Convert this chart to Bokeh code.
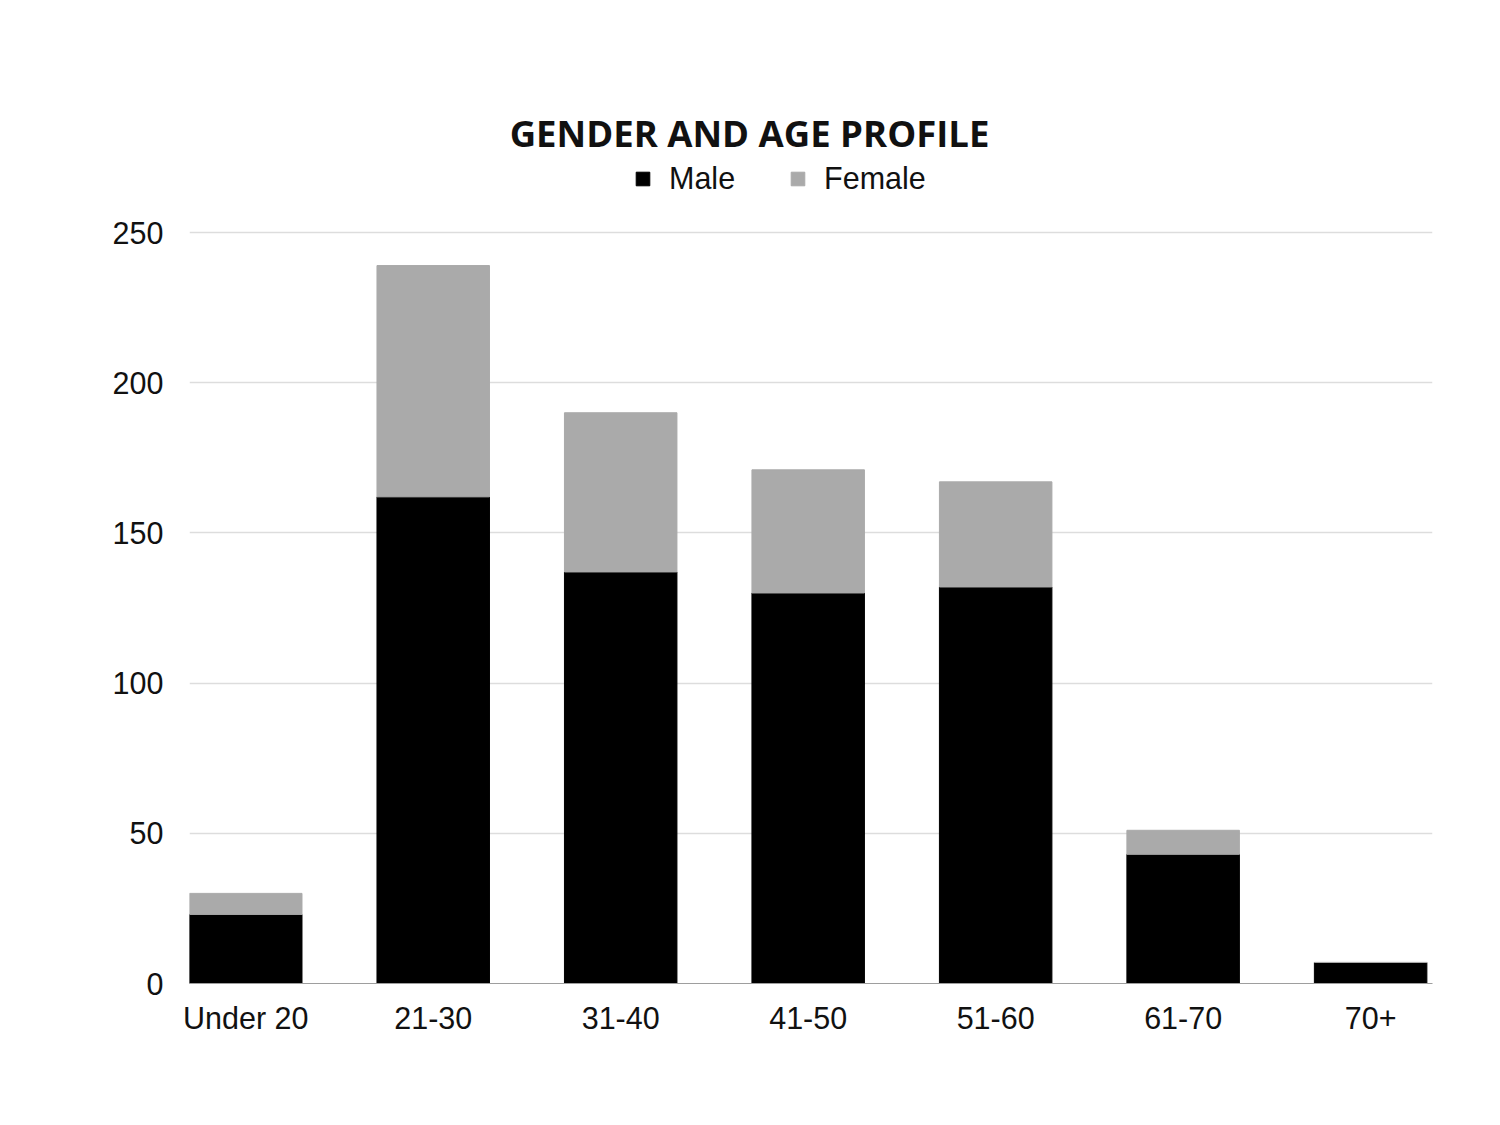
from bokeh.plotting import figure
from bokeh.models import ColumnDataSource, FixedTicker, Label, Legend, LegendItem, Range1d
from bokeh.embed import file_html
from bokeh.resources import INLINE

categories = ["Under 20", "21-30", "31-40", "41-50", "51-60", "61-70", "70+"]
male = [23, 162, 137, 130, 132, 43, 7]
female = [7, 77, 53, 41, 35, 8, 0]
y_ticks = [0, 50, 100, 150, 200, 250]

xs = list(range(len(categories)))
src = ColumnDataSource(dict(x=xs, male=male, female=female,
                            total=[m + f for m, f in zip(male, female)]))

W, H = 1500, 1125
FRAME_TOP, FRAME_BOT, TOP250 = 90, 983, 232
y_end = 250 * (FRAME_BOT - FRAME_TOP) / (FRAME_BOT - TOP250)
p = figure(width=W, height=H, output_backend="svg", toolbar_location=None,
           x_range=Range1d(-0.3, 6.33), y_range=Range1d(0, y_end),
           min_border_left=189, min_border_right=68, min_border_top=FRAME_TOP,
           min_border_bottom=H - FRAME_BOT)
p.outline_line_color = None
p.background_fill_color = "white"
p.border_fill_color = "white"

male_r = p.vbar(x="x", top="male", bottom=0, width=0.6, source=src,
                fill_color="#000000", line_color="#000000")
fem_r = p.vbar(x="x", top="total", bottom="male", width=0.6, source=src,
               fill_color="#aaaaaa", line_color="#aaaaaa")

FONT = "Liberation Sans"
FS = "30.5px"
p.xaxis.ticker = FixedTicker(ticks=xs)
p.xaxis.major_label_overrides = {i: c for i, c in enumerate(categories)}
p.yaxis.ticker = FixedTicker(ticks=y_ticks)
for ax in (p.xaxis[0], p.yaxis[0]):
    ax.major_tick_line_color = None
    ax.minor_tick_line_color = None
    ax.major_label_text_font = FONT
    ax.major_label_text_font_size = FS
    ax.major_label_text_color = "#111111"
p.xaxis.axis_line_color = "#9e9e9e"
p.xaxis.major_label_standoff = 11
p.yaxis.axis_line_color = None
p.yaxis.major_label_standoff = 20
p.xgrid.grid_line_color = None
p.ygrid.grid_line_color = "#dddddd"
p.ygrid.grid_line_width = 1.5

legend = Legend(items=[LegendItem(label="Male", renderers=[male_r]),
                       LegendItem(label="Female", renderers=[fem_r])],
                orientation="horizontal", location=(445, 787),
                label_text_font=FONT, label_text_font_size=FS,
                label_text_color="#111111", glyph_width=17, glyph_height=17,
                spacing=54, label_standoff=18, border_line_color=None,
                background_fill_alpha=0, padding=0, margin=0)
p.add_layout(legend, "center")

title = Label(x=560, y=851, x_units="screen", y_units="screen",
              text="GENDER AND AGE PROFILE", text_font="Open Sans",
              text_font_style="bold", text_font_size="36.5px", text_color="#111111",
              text_align="center", text_baseline="middle")
p.add_layout(title)

open("out.html", "w").write(file_html(p, INLINE))
